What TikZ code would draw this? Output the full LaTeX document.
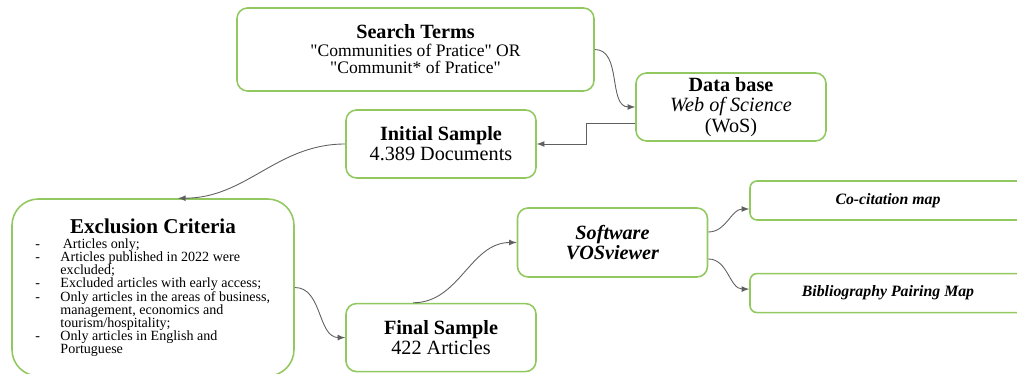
\documentclass[tikz,border=0pt]{standalone}
\usepackage{fontspec}
\setmainfont{Liberation Serif}
\usetikzlibrary{arrows,positioning}
\definecolor{leaf}{RGB}{146,200,96}
\definecolor{wire}{RGB}{95,95,95}
\tikzset{
  boxnode/.style={draw=leaf, line width=0.9pt, rectangle, rounded corners=6pt, minimum width=3.8cm, minimum height=1.36cm, align=center, inner sep=2pt, font=\fontsize{11.5}{11.5}\selectfont},
  mapnode/.style={boxnode, rounded corners=4pt, minimum width=5.52cm, minimum height=0.78cm, font=\fontsize{9}{9}\selectfont\bfseries\itshape},
  arrow/.style={>=latex, ->, draw=wire, line width=0.5pt}
}
\newcommand{\qq}[1]{\textquotedbl#1\textquotedbl}
\newcommand{\dashitem}{\makebox[0.5cm][l]{-}}
\newcommand{\moreitem}{\hspace*{0.5cm}}
\begin{document}
\begin{tikzpicture}[node distance=1cm, auto]
  \useasboundingbox (0,0) rectangle (20.34,7.48);
  \clip (0,0) rectangle (20.34,7.48);

  \node [boxnode, minimum width=7.14cm, minimum height=1.66cm, font=\fontsize{10}{10}\selectfont] (search) at (8.31,6.49)
    {{\fontsize{11.5}{11.5}\selectfont\bfseries Search Terms}\\\qq{Communities of Pratice} OR\\\qq{Communit* of Pratice}};
  \node [boxnode] (db) at (14.62,5.34) {\textbf{Data base}\\\textit{Web of Science}\\(WoS)};
  \node [boxnode] (init) at (8.82,4.60) {\textbf{Initial Sample}\\4.389 Documents};

  % exclusion criteria with the dashed list
  \node [boxnode, minimum width=5.64cm, minimum height=3.54cm, rounded corners=15pt] (excl) at (3.06,1.73)
    {{\fontsize{12}{12}\selectfont\bfseries Exclusion Criteria}\\[-3pt]
     {\fontsize{8}{7.3}\selectfont\lineskiplimit=-5pt
      \parbox[t]{4.7cm}{\raggedright
        \dashitem\,Articles only;\\
        \dashitem Articles published in 2022 were\\
        \moreitem excluded;\\
        \dashitem Excluded articles with early access;\\
        \dashitem Only articles in the areas of business,\\
        \moreitem management, economics and\\
        \moreitem tourism/hospitality;\\
        \dashitem Only articles in English and\\
        \moreitem Portuguese}}};

  \node [boxnode, below=2.48cm of init] (final) {\textbf{Final Sample}\\422 Articles};
  \node [boxnode, minimum height=1.38cm] (vos) at (12.25,2.63) {\textbf{\textit{Software}}\\\textbf{\textit{VOSviewer}}};
  \node [mapnode] (cocit) at (17.76,3.47) {Co-citation map};
  \node [mapnode, below=1.04cm of cocit] (biblio) {Bibliography Pairing Map};

  \draw [arrow] (search.east) to[out=0, in=180] (db.west);
  \draw [arrow] ([yshift=-0.32cm]db.west) -- ++(-0.98,0) |- (init.east);
  \draw [arrow] (init.west) to[out=180, in=0] ([xshift=0.5cm]excl.north);
  \draw [arrow] (excl.east) to[out=0, in=180] (final.west);
  \draw [arrow] ([xshift=-0.56cm]final.north) to[out=0, in=180] (vos.west);
  \draw [arrow] ([yshift=0.21cm]vos.east) to[out=0, in=180] ([yshift=-0.17cm]cocit.west);
  \draw [arrow] ([yshift=-0.33cm]vos.east) to[out=0, in=180] ([yshift=0.08cm]biblio.west);
\end{tikzpicture}
\end{document}
